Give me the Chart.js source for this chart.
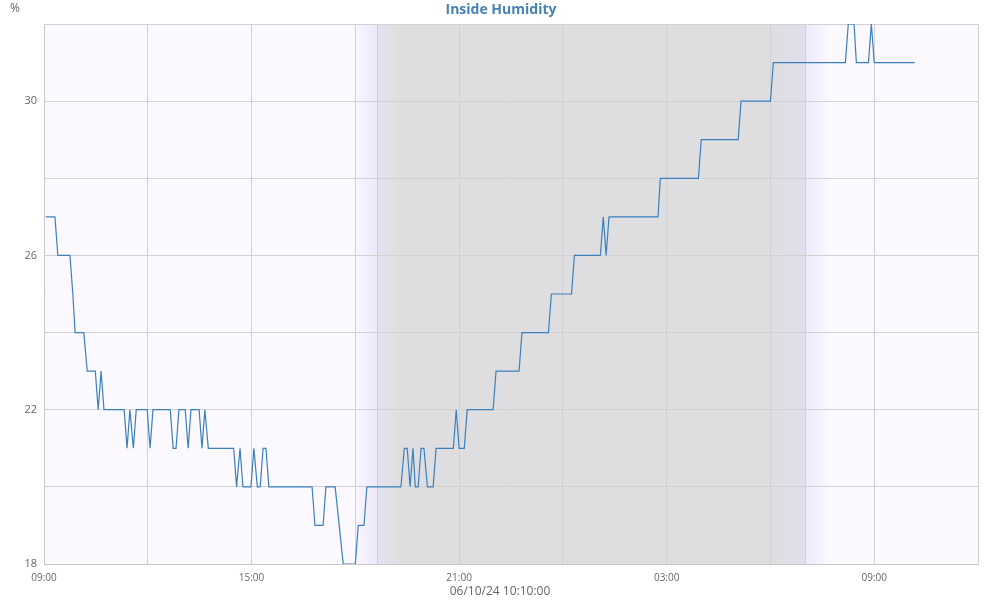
<!DOCTYPE html>
<html>
<head>
<meta charset="utf-8">
<title>Inside Humidity</title>
<script src="https://cdn.jsdelivr.net/npm/chart.js@4.4.1/dist/chart.umd.min.js"></script>
<style>
  html, body { margin: 0; padding: 0; background: #fff; }
  #wrap { width: 1000px; height: 600px; position: relative; }
</style>
</head>
<body>
<div id="wrap"><canvas id="humidityChart"></canvas></div>
<script>
// minutes after 09:00 (06/09/24)
const sampleMinutes = [3, 19, 24, 45, 50, 54, 69, 75, 89, 94, 99, 104, 139, 144, 149, 155, 160, 179, 184, 189,
  219, 224, 229, 234, 245, 250, 255, 269, 274, 279, 285, 329, 334, 340, 345, 359, 364, 370, 375, 380,
  385, 390, 465, 470, 484, 489, 505, 512, 519, 540, 545, 555, 560, 619, 625, 630, 635, 640, 644, 649,
  654, 659, 665, 675, 680, 710, 715, 720, 729, 734, 779, 784, 824, 829, 875, 880, 915, 920, 965, 970,
  975, 980, 1065, 1069, 1135, 1140, 1204, 1209, 1260, 1265, 1390, 1395, 1405, 1409, 1430, 1435, 1440, 1510];
// inside humidity, %
const humidity = [27, 27, 26, 26, 25, 24, 24, 23, 23, 22, 23, 22, 22, 21, 22, 21, 22, 22, 21, 22,
  22, 21, 21, 22, 22, 21, 22, 22, 21, 22, 21, 21, 20, 21, 20, 20, 21, 20, 20, 21,
  21, 20, 20, 19, 19, 20, 20, 19, 18, 18, 19, 19, 20, 20, 21, 21, 20, 21, 20, 20,
  21, 21, 20, 20, 21, 21, 22, 21, 21, 22, 22, 23, 23, 24, 24, 25, 25, 26, 26, 27,
  26, 27, 27, 28, 28, 29, 29, 30, 30, 31, 31, 32, 32, 31, 31, 32, 31, 31];

const yTickLabels = [18, 22, 26, 30];
const xTickLabels = ['09:00', '15:00', '21:00', '03:00', '09:00'];
const chartTitle = 'Inside Humidity';
const timeStamp = '06/10/24 10:10:00';

// night shading, minutes after 09:00
const duskMin = 540, sunsetMin = 577, darkMin = 617;
const lightMin = 1259, sunriseMin = 1320, dawnMin = 1363;

const backdrop = {
  id: 'backdrop',
  beforeDraw(chart) {
    const ctx = chart.ctx;
    const a = chart.chartArea;
    const x = chart.scales.x;
    const px = m => x.getPixelForValue(m);
    ctx.save();
    ctx.fillStyle = '#fbf9fe';
    ctx.fillRect(a.left, a.top, a.width, a.height);

    // evening twilight
    let g = ctx.createLinearGradient(px(duskMin), 0, px(sunsetMin), 0);
    g.addColorStop(0, '#f9f6fe');
    g.addColorStop(1, '#eee8fb');
    ctx.fillStyle = g;
    ctx.fillRect(px(duskMin), a.top, px(sunsetMin) - px(duskMin), a.height);

    // night
    const n0 = px(sunsetMin), n1 = px(sunriseMin);
    g = ctx.createLinearGradient(n0, 0, n1, 0);
    g.addColorStop(0, '#e4e2f2');
    g.addColorStop((px(darkMin) - n0) / (n1 - n0), '#dedee0');
    g.addColorStop((px(lightMin) - n0) / (n1 - n0), '#dedee0');
    g.addColorStop(1, '#e0dfec');
    ctx.fillStyle = g;
    ctx.fillRect(n0, a.top, n1 - n0, a.height);

    // morning twilight
    g = ctx.createLinearGradient(px(sunriseMin), 0, px(dawnMin), 0);
    g.addColorStop(0, '#efe8fc');
    g.addColorStop(1, '#fbf9fe');
    ctx.fillStyle = g;
    ctx.fillRect(px(sunriseMin), a.top, px(dawnMin) - px(sunriseMin), a.height);

    ctx.strokeStyle = 'rgba(190,190,205,0.6)';
    ctx.lineWidth = 1;
    [sunsetMin, sunriseMin].forEach(m => {
      const p = Math.round(px(m)) + 0.5;
      ctx.beginPath();
      ctx.moveTo(p, a.top);
      ctx.lineTo(p, a.bottom);
      ctx.stroke();
    });
    ctx.restore();
  },
  afterDraw(chart) {
    const ctx = chart.ctx;
    ctx.save();
    ctx.textAlign = 'center';
    ctx.textBaseline = 'middle';
    ctx.fillStyle = '#666';
    ctx.font = '12px "Open Sans"';
    ctx.fillText('%', 15, 9);
    ctx.fillText(timeStamp, 500, 592);
    ctx.fillStyle = '#4682b4';
    ctx.font = 'bold 14px "Open Sans"';
    ctx.fillText(chartTitle, 501, 10);
    ctx.restore();
  }
};

const ctx = document.getElementById('humidityChart').getContext('2d');
new Chart(ctx, {
  type: 'line',
  data: {
    datasets: [{
      label: chartTitle,
      data: sampleMinutes.map((m, i) => ({ x: m, y: humidity[i] })),
      borderColor: '#3b80bd',
      borderWidth: 1.2,
      pointRadius: 0,
      tension: 0,
      fill: false
    }]
  },
  options: {
    responsive: true,
    maintainAspectRatio: false,
    animation: false,
    layout: { padding: { left: 0, right: 22, top: 24, bottom: 0 } },
    plugins: {
      legend: { display: false },
      tooltip: { enabled: false },
      title: { display: false }
    },
    scales: {
      x: {
        type: 'linear',
        min: 0,
        max: 1620,
        afterFit: s => { s.height = 36; },
        grid: { color: '#d2d2d2', drawTicks: false },
        border: { color: '#c8c8c8' },
        ticks: {
          stepSize: 180,
          padding: 8,
          maxRotation: 0,
          autoSkip: false,
          color: '#666',
          font: { family: 'Open Sans', size: 10 },
          callback: v => (v % 360 === 0 ? xTickLabels[v / 360] : '')
        }
      },
      y: {
        min: 18,
        max: 32,
        afterFit: s => { s.width = 44; },
        grid: { color: '#d2d2d2', drawTicks: false },
        border: { color: '#c8c8c8' },
        ticks: {
          stepSize: 2,
          padding: 7,
          color: '#666',
          font: { family: 'Open Sans', size: 11 },
          callback: v => (yTickLabels.includes(v) ? String(v) : '')
        }
      }
    }
  },
  plugins: [backdrop]
});
</script>
</body>
</html>
